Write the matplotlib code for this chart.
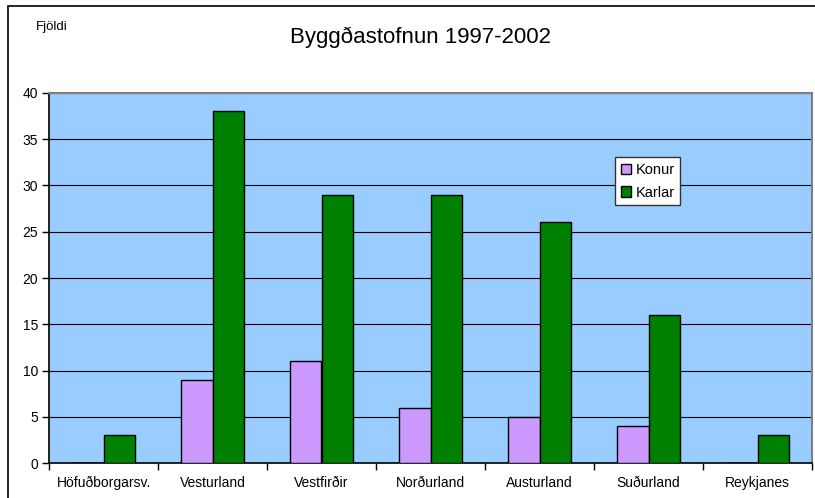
import numpy as np
import matplotlib.pyplot as plt
from matplotlib.patches import Rectangle

plt.rcParams['font.family'] = ['Liberation Sans', 'DejaVu Sans']

# gögn
svaedi = ["Höfuðborgarsv.", "Vesturland", "Vestfirðir", "Norðurland",
          "Austurland", "Suðurland", "Reykjanes"]
konur = [0, 9, 11, 6, 5, 4, 0]
karlar = [3, 38, 29, 29, 26, 16, 3]
y_ticks = [0, 5, 10, 15, 20, 25, 30, 35, 40]

fig = plt.figure(figsize=(8.15, 4.98), dpi=100)
ax = fig.add_axes([49 / 815, 35 / 498, 763 / 815, 370 / 498])

# ramminn utan um myndina
fig.patches.append(Rectangle((8 / 815, -0.1), 1.0, 1 - 6 / 498 + 0.1,
                             transform=fig.transFigure, fill=False,
                             edgecolor="black", linewidth=1.2))

x = np.arange(len(svaedi))
w = 0.285
ax.set_facecolor("#99CCFF")
ax.bar(x - w / 2, konur, w, color="#CC99FF", edgecolor="black",
       linewidth=1, label="Konur", zorder=3)
ax.bar(x + w / 2, karlar, w, color="#008000", edgecolor="black",
       linewidth=1, label="Karlar", zorder=3)

ax.set_xlim(-0.5, len(svaedi) - 0.5)
ax.set_ylim(0, 40)
ax.set_yticks(y_ticks)
ax.yaxis.grid(True, color="black", linewidth=0.8, zorder=1)
ax.set_axisbelow(True)

ax.set_xticks(x)
ax.set_xticklabels(svaedi, fontsize=10)
ax.set_xticks(np.arange(-0.5, len(svaedi)), minor=True)
ax.tick_params(axis="x", which="major", length=0, pad=9)
ax.tick_params(axis="x", which="minor", length=5, width=1, direction="out")
ax.tick_params(axis="y", length=5, width=1, labelsize=10, pad=3)

for s in ["top", "right"]:
    ax.spines[s].set_color("gray")
    ax.spines[s].set_linewidth(1.5)
ax.spines["left"].set_linewidth(1.2)
ax.spines["bottom"].set_linewidth(1.2)

fig.text(420 / 815, 1 - 37 / 498, "Byggðastofnun 1997-2002", ha="center",
         va="center", fontsize=16)
fig.text(36 / 815, 1 - 27 / 498, "Fjöldi", ha="left", va="center", fontsize=9.5)

leg = ax.legend(loc="upper left", bbox_to_anchor=(566 / 763, 306 / 370),
                fontsize=10.5, frameon=True, fancybox=False, framealpha=1,
                edgecolor="#333333", handlelength=0.7, handleheight=0.7,
                handletextpad=0.3, borderpad=0.4, labelspacing=0.6,
                borderaxespad=0)
leg.get_frame().set_linewidth(1)

fig.savefig("out.png", dpi=100)
